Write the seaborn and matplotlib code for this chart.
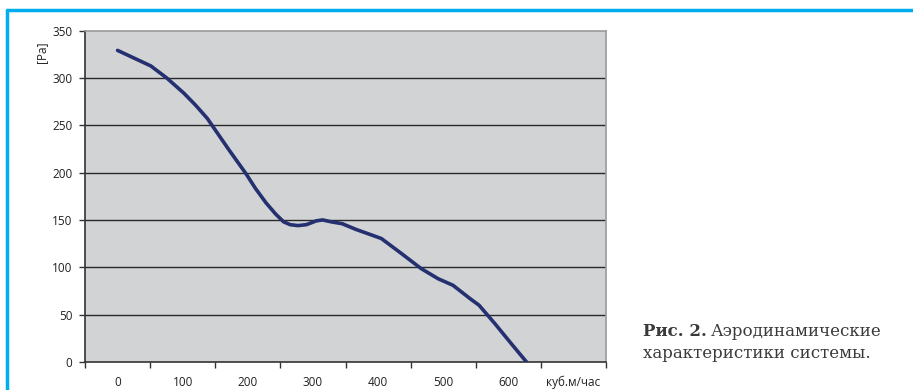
import matplotlib
matplotlib.use("Agg")
import matplotlib.pyplot as plt
from matplotlib.lines import Line2D
import seaborn as sns
import pandas as pd

# Data
flow = [0, 51, 76, 102, 120, 138, 170, 197, 212, 228, 243, 255, 265, 277, 290, 305, 315, 328, 345, 366, 405, 435, 466, 492, 515, 543, 555, 580, 605, 628]
pressure = [329, 312.6, 299.6, 283.7, 271, 257, 225, 199, 183, 168, 156, 148, 145, 144, 145, 149, 150, 148, 146, 140, 130.4, 115, 98.7, 88, 81, 66, 60, 40, 19, 0]
x_labels = ["0", "100", "200", "300", "400", "500", "600", "куб.м/час"]
y_ticks = [0, 50, 100, 150, 200, 250, 300, 350]

df = pd.DataFrame({"flow": flow, "pressure": pressure})

sns.set_style("white")
plt.rcParams["font.family"] = ["Open Sans", "DejaVu Sans"]

W, H = 913, 390
fig = plt.figure(figsize=(W / 100, H / 100), dpi=100)
ax = fig.add_axes([85 / W, (H - 362) / H, (606 - 85) / W, (362 - 30.5) / H])
ax.set_facecolor("#D1D3D4")

for v in y_ticks[1:-1]:
    ax.axhline(v, color="#2a2a2a", lw=1.0, zorder=1)

sns.lineplot(data=df, x="flow", y="pressure", sort=False, ax=ax,
             color="#24306F", lw=2.6, zorder=3)

ax.set_xlim(-50, 750)
ax.set_ylim(0, 350)

# category-style x axis: tick marks at boundaries, labels at centres
ax.set_xticks([-50 + 100 * i for i in range(9)])
ax.set_xticklabels([])
ax.set_xticks([100 * i for i in range(len(x_labels))], minor=True)
ax.set_xticklabels(x_labels, minor=True)
ax.tick_params(axis="x", which="major", direction="out", length=4, width=1, color="#333333", bottom=True)
ax.tick_params(axis="x", which="minor", length=0, pad=10, labelsize=8.5, labelcolor="#222222")

ax.set_yticks(y_ticks)
ax.set_yticklabels([str(v) for v in y_ticks])
ax.tick_params(axis="y", which="major", direction="out", length=4, width=1, color="#333333",
               left=True, pad=5, labelsize=8.5, labelcolor="#222222")

ax.set_xlabel("")
ax.set_ylabel("")
for side in ["left", "bottom"]:
    ax.spines[side].set_color("#333333")
    ax.spines[side].set_linewidth(1.2)
for side in ["top", "right"]:
    ax.spines[side].set_color("#9a9a9a")
    ax.spines[side].set_linewidth(1.2)

fig.text(42 / W, 1 - 52 / H, "[Pa]", rotation=90, ha="center", va="center",
         fontsize=8.5, color="#222222")

# blue frame (top and left)
fig.add_artist(Line2D([7 / W, 1], [1 - 10 / H, 1 - 10 / H], color="#00AEEF", lw=2.5,
                      transform=fig.transFigure))
fig.add_artist(Line2D([7 / W, 7 / W], [0, 1 - 10 / H], color="#00AEEF", lw=2.5,
                      transform=fig.transFigure))

# caption
serif = ["DejaVu Serif", "Liberation Serif"]
t1 = fig.text(643 / W, 1 - 332 / H, "Рис. 2.", family=serif, fontweight="bold",
              fontsize=12, color="#3a3a3a", va="center", ha="left")
fig.canvas.draw()
bb = t1.get_window_extent()
fig.text((bb.x1 + 4) / W, 1 - 332 / H, "Аэродинамические", family=serif,
         fontsize=12, color="#3a3a3a", va="center", ha="left")
fig.text(643 / W, 1 - 354 / H, "характеристики системы.", family=serif,
         fontsize=12, color="#3a3a3a", va="center", ha="left")

fig.savefig("out.png", dpi=100, facecolor="white")
